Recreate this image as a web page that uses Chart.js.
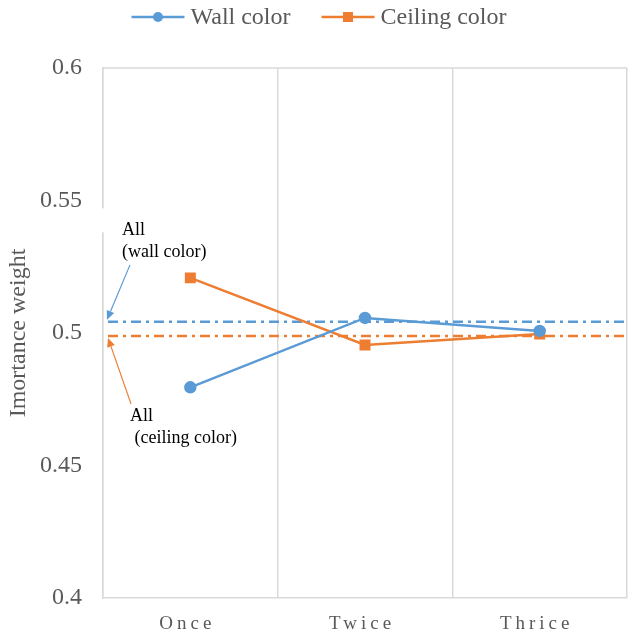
<!DOCTYPE html>
<html>
<head>
<meta charset="utf-8">
<script src="https://cdn.jsdelivr.net/npm/chart.js@4"></script>
<style>
html,body{margin:0;padding:0;background:#fff;}
#wrap{width:628px;height:641px;position:relative;}
</style>
</head>
<body>
<div id="wrap"><canvas id="c" width="628" height="641"></canvas></div>
<script>
// ---- data ----
const categories = ["Once", "Twice", "Thrice"];
const wallColor = [0.4795, 0.5057, 0.5008];
const ceilingColor = [0.5208, 0.4955, 0.4996];
const allWall = 0.5042;
const allCeiling = 0.4989;
const yTicks = [0.4, 0.45, 0.5, 0.55, 0.6];
const seriesNames = ["Wall color", "Ceiling color"];
const annotWall = ["All", "(wall color)"];
const annotCeiling = ["All", " (ceiling color)"];
const yTitle = "Imortance weight";

const BLUE = "#5b9bd5", ORANGE = "#ed7d31", GRID = "#d9d9d9", TXT = "#595959";
const FONT = "'Liberation Serif','Times New Roman',serif";

function arrow(ctx, x1, y1, x2, y2, color) {
  ctx.save();
  ctx.strokeStyle = color; ctx.fillStyle = color; ctx.lineWidth = 1.2;
  const a = Math.atan2(y2 - y1, x2 - x1), L = 9, W = 4;
  const bx = x2 - L * Math.cos(a), by = y2 - L * Math.sin(a);
  ctx.beginPath(); ctx.moveTo(x1, y1); ctx.lineTo(bx, by); ctx.stroke();
  ctx.beginPath();
  ctx.moveTo(x2, y2);
  ctx.lineTo(bx + W * Math.sin(a), by - W * Math.cos(a));
  ctx.lineTo(bx - W * Math.sin(a), by + W * Math.cos(a));
  ctx.closePath(); ctx.fill();
  ctx.restore();
}

const decor = {
  id: 'decor',
  beforeDatasetsDraw(chart) {
    const {ctx, chartArea: ca, scales: {x, y}} = chart;
    ctx.save();
    // top border
    ctx.strokeStyle = GRID; ctx.lineWidth = 1.5;
    ctx.beginPath(); ctx.moveTo(ca.left, ca.top); ctx.lineTo(ca.right, ca.top); ctx.stroke();
    // small gap in the left axis behind the annotation
    ctx.fillStyle = '#fff';
    ctx.fillRect(ca.left - 2, y.getPixelForValue(0.547), 4, y.getPixelForValue(0.538) - y.getPixelForValue(0.547));
    // reference lines
    ctx.lineWidth = 2.5;
    ctx.setLineDash([10, 5, 3, 5]);
    [[allWall, BLUE], [allCeiling, ORANGE]].forEach(([v, c]) => {
      const py = y.getPixelForValue(v);
      ctx.strokeStyle = c;
      ctx.beginPath(); ctx.moveTo(ca.left + 5, py); ctx.lineTo(ca.right, py); ctx.stroke();
    });
    ctx.setLineDash([]);
    ctx.restore();
  },
  afterDraw(chart) {
    const {ctx, chartArea: ca, scales: {x, y}} = chart;
    ctx.save();
    // x labels with letter spacing
    ctx.font = "19px " + FONT;
    ctx.fillStyle = TXT;
    ctx.textAlign = 'center'; ctx.textBaseline = 'middle';
    try { ctx.letterSpacing = '4px'; } catch (e) {}
    categories.forEach((c, i) => {
      ctx.fillText(c, x.getPixelForValue(i) - 3, ca.bottom + 26);
    });
    try { ctx.letterSpacing = '0px'; } catch (e) {}
    // annotations
    ctx.font = "18px " + FONT;
    ctx.fillStyle = '#000';
    ctx.textAlign = 'left';
    const yw = y.getPixelForValue(allWall), yc = y.getPixelForValue(allCeiling);
    ctx.fillText(annotWall[0], ca.left + 19, yw - 92);
    ctx.fillText(annotWall[1], ca.left + 19, yw - 70);
    ctx.fillText(annotCeiling[0], ca.left + 27, yc + 80);
    ctx.fillText(annotCeiling[1], ca.left + 27, yc + 102);
    arrow(ctx, ca.left + 27, yw - 57, ca.left + 4, yw - 2, BLUE);
    arrow(ctx, ca.left + 28, yc + 68, ca.left + 5, yc + 2, ORANGE);
    // legend
    ctx.font = "24px " + FONT;
    ctx.fillStyle = TXT;
    ctx.textBaseline = 'middle';
    const lineW = 53, gap1 = 6, gap2 = 31;
    const w0 = ctx.measureText(seriesNames[0]).width, w1 = ctx.measureText(seriesNames[1]).width;
    const total = lineW + gap1 + w0 + gap2 + lineW + gap1 + w1;
    let lx = chart.width / 2 - total / 2 + 5;
    const ly = 17;
    [[BLUE, 'circle', seriesNames[0], w0], [ORANGE, 'rect', seriesNames[1], w1]].forEach(([col, shape, name, w]) => {
      ctx.strokeStyle = col; ctx.fillStyle = col; ctx.lineWidth = 2.5;
      ctx.beginPath(); ctx.moveTo(lx, ly); ctx.lineTo(lx + lineW, ly); ctx.stroke();
      const mx = lx + lineW / 2;
      ctx.beginPath();
      if (shape === 'circle') ctx.arc(mx, ly, 5, 0, Math.PI * 2);
      else ctx.rect(mx - 5, ly - 5, 10, 10);
      ctx.fill();
      ctx.fillStyle = TXT;
      ctx.fillText(name, lx + lineW + gap1, ly + 1);
      lx += lineW + gap1 + w + gap2;
    });
    ctx.restore();
  }
};

new Chart(document.getElementById('c'), {
  type: 'line',
  data: {
    labels: categories,
    datasets: [
      {label: seriesNames[0], data: wallColor, borderColor: BLUE, backgroundColor: BLUE,
       borderWidth: 2.5, pointStyle: 'circle', pointRadius: 5, pointHoverRadius: 5, tension: 0},
      {label: seriesNames[1], data: ceilingColor, borderColor: ORANGE, backgroundColor: ORANGE,
       borderWidth: 2.5, pointStyle: 'rect', pointRadius: 6, pointHoverRadius: 6, tension: 0}
    ]
  },
  options: {
    responsive: false,
    animation: false,
    events: [],
    layout: {autoPadding: false, padding: {top: 68, right: 1, left: 0, bottom: 0}},
    plugins: {legend: {display: false}, tooltip: {enabled: false}},
    scales: {
      x: {
        type: 'category',
        offset: true,
        grid: {offset: true, color: GRID, lineWidth: 1.5, drawTicks: false},
        border: {color: GRID, width: 1.5},
        ticks: {display: false},
        afterFit(s) { s.height = 43; }
      },
      y: {
        min: 0.4, max: 0.6,
        afterBuildTicks(s) { s.ticks = yTicks.map(v => ({value: v})); },
        grid: {display: false, drawTicks: false},
        border: {display: true, color: GRID, width: 1.5},
        ticks: {color: TXT, font: {family: FONT, size: 24}, padding: 21,
                callback: v => String(v)},
        title: {display: true, text: yTitle, color: TXT, font: {family: FONT, size: 24},
                padding: {top: 4, bottom: 0}},
        afterFit(s) { s.width = 103; }
      }
    }
  },
  plugins: [decor]
});
</script>
</body>
</html>
